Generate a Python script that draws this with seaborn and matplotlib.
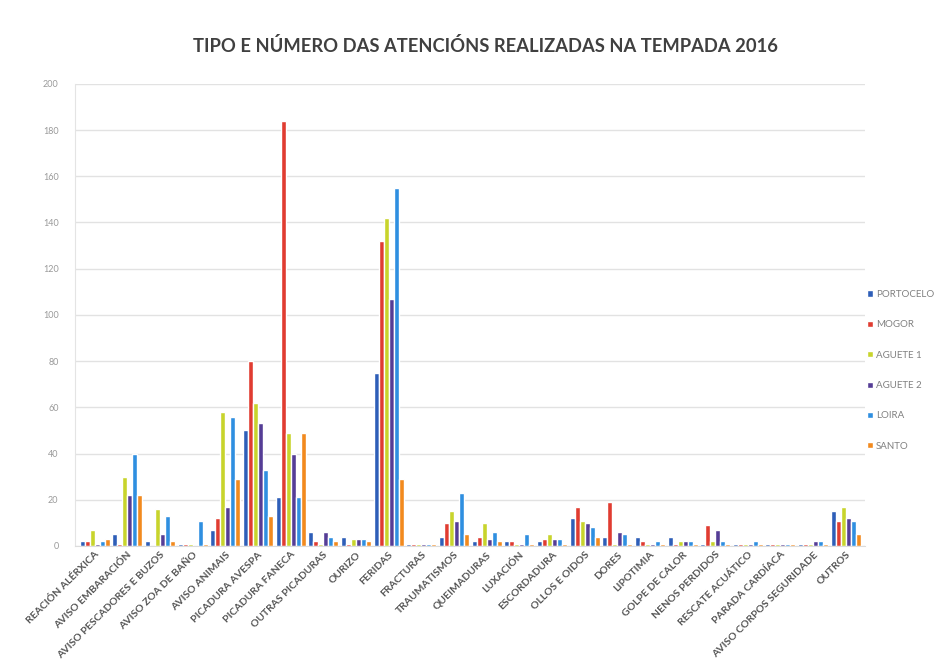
import matplotlib
matplotlib.use('Agg')
import matplotlib.pyplot as plt
import numpy as np
import pandas as pd
import seaborn as sns

# atencions por tipo e por praia, tempada 2016
categories = [
    'REACIÓN ALÉRXICA', 'AVISO EMBARACIÓN', 'AVISO PESCADORES E BUZOS',
    'AVISO ZOA DE BAÑO', 'AVISO ANIMAIS', 'PICADURA AVESPA',
    'PICADURA FANECA', 'OUTRAS PICADURAS', 'OURIZO', 'FERIDAS',
    'FRACTURAS', 'TRAUMATISMOS', 'QUEIMADURAS', 'LUXACIÓN',
    'ESCORDADURA', 'OLLOS E OIDOS', 'DORES', 'LIPOTIMIA',
    'GOLPE DE CALOR', 'NENOS PERDIDOS', 'RESCATE ACUÁTICO',
    'PARADA CARDÍACA', 'AVISO CORPOS SEGURIDADE', 'OUTROS',
]
stations = ['PORTOCELO', 'MOGOR', 'AGUETE 1', 'AGUETE 2', 'LOIRA', 'SANTO']

portocelo = [2, 5, 2, 1, 7, 50, 21, 6, 4, 75, 1, 4, 2, 2, 2, 12, 4, 4, 4, 1, 1, 1, 1, 15]
mogor     = [2, 1, 0, 1, 12, 80, 184, 2, 1, 132, 1, 10, 4, 2, 3, 17, 19, 2, 1, 9, 1, 1, 1, 11]
aguete1   = [7, 30, 16, 1, 58, 62, 49, 1, 3, 142, 1, 15, 10, 1, 5, 11, 1, 1, 2, 2, 1, 1, 1, 17]
aguete2   = [1, 22, 5, 0, 17, 53, 40, 6, 3, 107, 1, 11, 3, 1, 3, 10, 6, 1, 2, 7, 1, 1, 2, 12]
loira     = [2, 40, 13, 11, 56, 33, 21, 4, 3, 155, 1, 23, 6, 5, 3, 8, 5, 2, 2, 2, 2, 1, 2, 11]
santo     = [3, 22, 2, 1, 29, 13, 49, 2, 2, 29, 1, 5, 2, 1, 1, 4, 1, 1, 1, 1, 1, 1, 1, 5]

colors = ['#2E5EB8', '#E03C31', '#C8D42C', '#553D96', '#2F8FE0', '#F28A1E']


def build_frame():
  rows = []
  series = [portocelo, mogor, aguete1, aguete2, loira, santo]
  for name, vals in zip(stations, series):
    for cat, v in zip(categories, vals):
      rows.append({'tipo': cat, 'praia': name, 'n': v})
  return pd.DataFrame(rows)


def main():
  df = build_frame()
  sns.set_style('white')
  plt.rcParams['font.family'] = ['Lato', 'DejaVu Sans']

  fig = plt.figure(figsize=(9.52, 6.65), dpi=100)
  ax = fig.add_axes([0.079, 0.179, 0.830, 0.695])

  sns.barplot(data=df, x='tipo', y='n', hue='praia', hue_order=stations,
              order=categories, palette=colors, width=0.92, gap=0,
              saturation=1, ax=ax, legend=True)

  ax.set_ylim(0, 200)
  ax.set_yticks(np.arange(0, 201, 20))
  ax.yaxis.grid(True, color='#e2e2e2', linewidth=1)
  ax.set_axisbelow(True)
  for s in ['top', 'right']:
    ax.spines[s].set_visible(False)
  ax.spines['left'].set_color('#e4e4e4')
  ax.spines['bottom'].set_color('#dcdcdc')
  ax.set_xlim(-0.6, len(categories) - 0.4)
  ax.set_xlabel('')
  ax.set_ylabel('')
  ax.tick_params(axis='y', labelsize=6.5, labelcolor='#9a9a9a', length=0, pad=12)
  ax.tick_params(axis='x', length=0, pad=3)
  ax.set_xticks(range(len(categories)))
  ax.set_xticklabels(categories, rotation=45, ha='right', rotation_mode='anchor',
                     fontsize=7.5, fontweight='bold', color='#555555')

  # legend sits just right of the plot, must not run off the page
  leg = ax.legend(loc='center left', bbox_to_anchor=(0.995, 0.38), frameon=False,
                  fontsize=7, handlelength=0.6, handleheight=0.6,
                  handletextpad=0.3, labelspacing=2.2, borderaxespad=0.2)
  for t in leg.get_texts():
    t.set_color('#808080')

  fig.suptitle('TIPO E NÚMERO DAS ATENCIÓNS REALIZADAS NA TEMPADA 2016',
               x=0.51, y=0.945, fontsize=13.2, fontweight='bold', color='#404040')

  fig.savefig('out.png', dpi=100)


if __name__ == '__main__':
  main()
